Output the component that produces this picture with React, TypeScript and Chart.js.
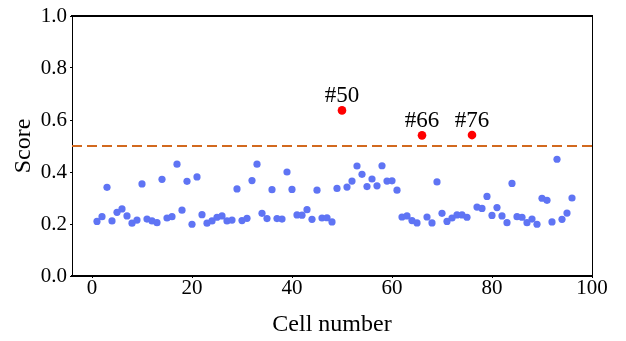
import React, { useEffect, useRef } from "react";
import { Chart, registerables } from "chart.js";

Chart.register(...registerables);

const cellNumbers = [
  1, 2, 3, 4, 5, 6, 7, 8, 9, 10, 11, 12, 13, 14, 15, 16, 17, 18, 19, 20,
  21, 22, 23, 24, 25, 26, 27, 28, 29, 30, 31, 32, 33, 34, 35, 36, 37, 38, 39, 40,
  41, 42, 43, 44, 45, 46, 47, 48, 49, 50, 51, 52, 53, 54, 55, 56, 57, 58, 59, 60,
  61, 62, 63, 64, 65, 66, 67, 68, 69, 70, 71, 72, 73, 74, 75, 76, 77, 78, 79, 80,
  81, 82, 83, 84, 85, 86, 87, 88, 89, 90, 91, 92, 93, 94, 95, 96,
];

const scores = [
  0.210, 0.228, 0.341, 0.212, 0.245, 0.258, 0.231, 0.203, 0.215, 0.354,
  0.219, 0.212, 0.205, 0.372, 0.223, 0.228, 0.430, 0.253, 0.364, 0.199,
  0.381, 0.236, 0.203, 0.212, 0.226, 0.231, 0.212, 0.215, 0.335, 0.213,
  0.222, 0.367, 0.430, 0.241, 0.221, 0.332, 0.221, 0.219, 0.400, 0.333,
  0.235, 0.234, 0.255, 0.218, 0.330, 0.223, 0.224, 0.208, 0.337, 0.637,
  0.342, 0.365, 0.423, 0.391, 0.344, 0.373, 0.347, 0.424, 0.365, 0.366,
  0.330, 0.227, 0.231, 0.213, 0.204, 0.541, 0.227, 0.204, 0.362, 0.241,
  0.210, 0.223, 0.235, 0.235, 0.226, 0.542, 0.265, 0.260, 0.306, 0.233,
  0.263, 0.231, 0.205, 0.356, 0.228, 0.226, 0.205, 0.219, 0.199, 0.299,
  0.291, 0.208, 0.449, 0.218, 0.242, 0.300,
];

const threshold = 0.5;
const thresholdX = [-4, 100];
const xTickValues = [0, 20, 40, 60, 80, 100];
const yTickValues = [0, 0.2, 0.4, 0.6, 0.8, 1.0];

const SERIF = "'Liberation Serif', 'Times New Roman', serif";

export default function App() {
  const canvasRef = useRef<HTMLCanvasElement | null>(null);

  useEffect(() => {
    const canvas = canvasRef.current;
    if (!canvas) return;

    const normal = cellNumbers
      .map((c, i) => ({ x: c, y: scores[i] }))
      .filter((p) => p.y <= threshold);
    const outliers = cellNumbers
      .map((c, i) => ({ x: c, y: scores[i] }))
      .filter((p) => p.y > threshold);

    const labelPlugin = {
      id: "outlierLabels",
      afterDatasetsDraw(chart: any) {
        const ctx = chart.ctx;
        const xs = chart.scales.x;
        const ys = chart.scales.y;
        ctx.save();
        ctx.font = `23px ${SERIF}`;
        ctx.fillStyle = "#000";
        ctx.textAlign = "center";
        ctx.textBaseline = "alphabetic";
        outliers.forEach((p) => {
          const px = xs.getPixelForValue(p.x);
          const py = ys.getPixelForValue(p.y);
          ctx.fillText(`#${p.x}`, px, py - 8);
        });
        ctx.restore();
      },
    };

    const tickFont = { family: SERIF, size: 21, lineHeight: 1 };
    const titleFont = { family: SERIF, size: 24, lineHeight: 1 };

    const chart = new Chart(canvas, {
      type: "scatter",
      data: {
        datasets: [
          {
            type: "line",
            label: "threshold",
            data: thresholdX.map((x) => ({ x, y: threshold })),
            borderColor: "#D2691E",
            borderWidth: 2,
            borderDash: [10, 5],
            pointRadius: 0,
            fill: false,
            order: 3,
          } as any,
          {
            label: "cells",
            data: normal,
            backgroundColor: "#5F74F4",
            borderColor: "#5F74F4",
            borderWidth: 0,
            pointRadius: 3.6,
            order: 2,
          },
          {
            label: "outliers",
            data: outliers,
            backgroundColor: "#FF0000",
            borderColor: "#FF0000",
            borderWidth: 0,
            pointRadius: 4.3,
            order: 1,
          },
        ],
      },
      options: {
        responsive: false,
        animation: false,
        layout: { padding: { top: 16, right: 34, left: 0, bottom: 0 } },
        plugins: {
          legend: { display: false },
          tooltip: { enabled: false },
        },
        scales: {
          x: {
            type: "linear",
            position: "bottom",
            min: -4,
            max: 100,
            afterBuildTicks: (s: any) => {
              s.ticks = xTickValues.map((v) => ({ value: v }));
            },
            afterFit: (s: any) => {
              s.height = 65;
            },
            ticks: {
              font: tickFont,
              color: "#000",
              padding: 0,
              maxRotation: 0,
              autoSkip: false,
            },
            grid: {
              display: true,
              drawOnChartArea: false,
              drawTicks: true,
              tickLength: 2,
              color: "#000",
              lineWidth: 1,
            },
            border: { display: true, color: "#000", width: 2 },
            title: {
              display: true,
              text: "Cell number",
              font: titleFont,
              color: "#000",
              padding: { top: 0, bottom: 4 },
            },
          },
          y: {
            type: "linear",
            position: "left",
            min: 0,
            max: 1,
            afterBuildTicks: (s: any) => {
              s.ticks = yTickValues.map((v) => ({ value: v }));
            },
            afterFit: (s: any) => {
              s.width = 72;
            },
            ticks: {
              font: tickFont,
              color: "#000",
              padding: 3,
              callback: (v: any) => Number(v).toFixed(1),
            },
            grid: {
              display: true,
              drawOnChartArea: false,
              drawTicks: true,
              tickLength: 2,
              color: "#000",
              lineWidth: 1,
            },
            border: { display: true, color: "#000", width: 1 },
            title: {
              display: true,
              text: "Score",
              font: titleFont,
              color: "#000",
              padding: { top: 12, bottom: 0 },
            },
          },
          xTop: {
            type: "linear",
            position: "top",
            min: -4,
            max: 100,
            afterFit: (s: any) => {
              s.height = 0;
            },
            ticks: { display: false },
            grid: { display: false, drawTicks: false },
            border: { display: true, color: "#000", width: 2 },
          },
          yRight: {
            type: "linear",
            position: "right",
            min: 0,
            max: 1,
            afterFit: (s: any) => {
              s.width = 0;
            },
            ticks: { display: false },
            grid: { display: false, drawTicks: false },
            border: { display: true, color: "#000", width: 1 },
          },
        },
      } as any,
      plugins: [labelPlugin],
    });

    return () => chart.destroy();
  }, []);

  return (
    <div style={{ position: "absolute", left: 0, top: 0, width: 626, height: 341, background: "#fff" }}>
      <canvas ref={canvasRef} width={626} height={341} style={{ display: "block" }} />
    </div>
  );
}
